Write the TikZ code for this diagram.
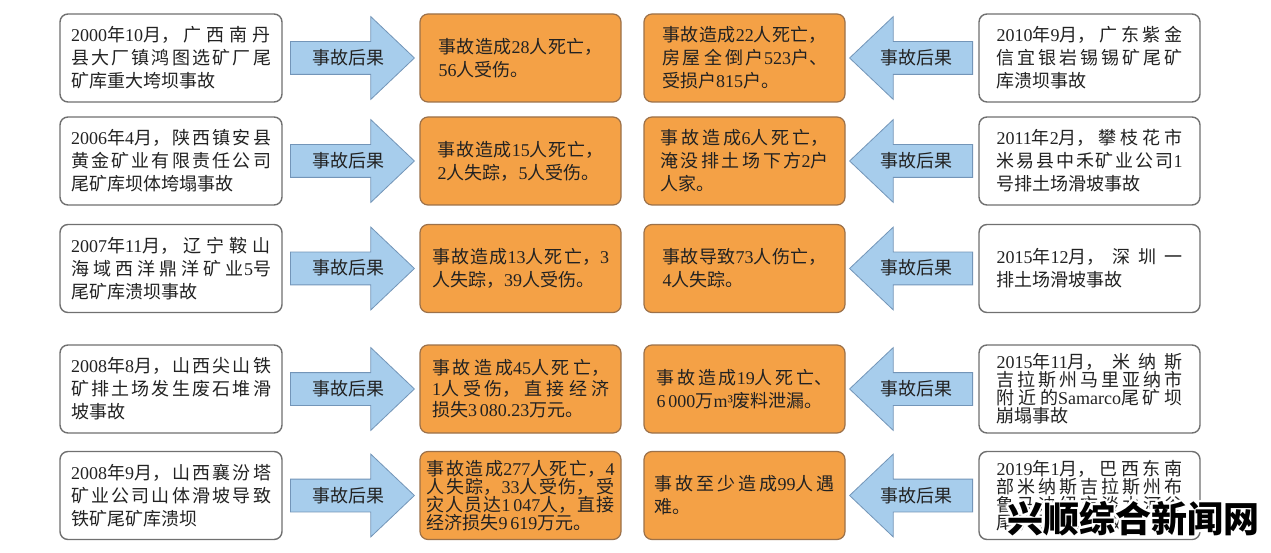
\documentclass[tikz,border=0pt]{standalone}
\usepackage{fontspec}
\setmainfont{Liberation Serif}
\newfontfamily\cjk{Noto Sans CJK SC}
\usepackage[copies]{contour}
\contourlength{2.5pt}
\contournumber{8}
\usetikzlibrary{shapes.arrows}
\XeTeXlinebreaklocale "zh"
\XeTeXlinebreakskip=0pt plus 4pt
\tolerance=9999 \hbadness=10000 \hfuzz=6pt
\XeTeXinterchartokenstate=1
\newXeTeXintercharclass\cjkcls
\count255="4E00
\loop\XeTeXcharclass\count255=\cjkcls\relax\advance\count255 by 1\relax\ifnum\count255<"A000\repeat
\XeTeXcharclass"3001=\cjkcls\relax
\XeTeXcharclass"3002=\cjkcls\relax
\XeTeXcharclass"FF0C=\cjkcls\relax
\XeTeXinterchartoks 0 \cjkcls = {\cjk}
\XeTeXinterchartoks 4095 \cjkcls = {\cjk}
\XeTeXinterchartoks \cjkcls 0 = {\rmfamily}
\XeTeXinterchartoks 4095 0 = {\rmfamily}
\definecolor{orangefill}{HTML}{F4A146}
\definecolor{orangeline}{HTML}{9C7149}
\definecolor{boxline}{HTML}{707070}
\definecolor{arrowfill}{HTML}{A7CDEC}
\definecolor{arrowline}{HTML}{7395B8}
\definecolor{ink}{HTML}{222222}
\newcommand{\rlabel}{事故后果\hspace*{-10pt}}
\newcommand{\llabel}{\hspace*{-7pt}事故后果}
\tikzset{
  basebox/.style={rounded corners=8pt, minimum height=88pt, inner sep=0pt,
    align=justify, text=ink, font=\fontsize{18pt}{23pt}\selectfont},
  whitebox/.style={basebox, draw=boxline, line width=1.4pt, fill=white},
  lbox/.style={whitebox, minimum width=222pt, text width=200pt},
  rbox/.style={whitebox, minimum width=221pt, text width=186pt},
  obox/.style={basebox, draw=orangeline, line width=1.2pt, fill=orangefill, minimum width=201pt},
  tight/.style={font=\fontsize{18pt}{18pt}\selectfont},
  rarrow/.style={single arrow, draw=arrowline, fill=arrowfill, line width=0.8pt,
    minimum height=124pt, single arrow head extend=25pt, single arrow tip angle=87,
    inner xsep=0pt, inner ysep=7pt, text height=15.5pt, text depth=2.5pt,
    font=\fontsize{18pt}{20pt}\selectfont, text=ink, anchor=tail},
  larrow/.style={rarrow, shape border rotate=180, minimum height=123pt}
}
\begin{document}
\begin{tikzpicture}[x=1pt,y=-1pt]
\useasboundingbox (0,0) rectangle (1271,553);
\fill[white] (0,0) rectangle (1271,553);
% row 1
\node[lbox] (l1) at (171,58) {2000年10月，广西南丹\linebreak 县大厂镇鸿图选矿厂尾\linebreak 矿库重大垮坝事故};
\node[rarrow] (ra1) at (290,58) {\rlabel};
\node[obox, text width=164pt] (o11) at (520.5,58) {事故造成28人死亡，\linebreak 56人受伤。};
\node[obox, text width=165pt] (o21) at (744.5,58) {事故造成22人死亡，\linebreak 房屋全倒户523户、\linebreak 受损户815户。};
\node[larrow] (la1) at (973,58) {\llabel};
\node[rbox] (r1) at (1089.5,58) {2010年9月，广东紫金\linebreak 信宜银岩锡锡矿尾矿\linebreak 库溃坝事故};
% row 2
\node[lbox] (l2) at (171,161) {2006年4月，陕西镇安县\linebreak 黄金矿业有限责任公司\linebreak 尾矿库坝体垮塌事故};
\node[rarrow] (ra2) at (290,161) {\rlabel};
\node[obox, text width=166pt] (o12) at (520.5,161) {事故造成15人死亡，\linebreak 2人失踪，5人受伤。};
\node[obox, text width=168pt] (o22) at (744.5,161) {事故造成6人死亡，\linebreak 淹没排土场下方2户\linebreak 人家。};
\node[larrow] (la2) at (973,161) {\llabel};
\node[rbox] (r2) at (1089.5,161) {2011年2月，攀枝花市\linebreak 米易县中禾矿业公司1\linebreak 号排土场滑坡事故};
% row 3
\node[lbox] (l3) at (171,268.5) {2007年11月，辽宁鞍山\linebreak 海域西洋鼎洋矿业5号\linebreak 尾矿库溃坝事故};
\node[rarrow] (ra3) at (290,268.5) {\rlabel};
\node[obox, text width=177pt] (o13) at (520.5,268.5) {事故造成13人死亡，3\linebreak 人失踪，39人受伤。};
\node[obox, text width=164pt] (o23) at (744.5,268.5) {事故导致73人伤亡，\linebreak 4人失踪。};
\node[larrow] (la3) at (973,268.5) {\llabel};
\node[rbox] (r3) at (1089.5,268.5) {2015年12月，深圳一\linebreak 排土场滑坡事故};
% row 4
\node[lbox] (l4) at (171,389) {2008年8月，山西尖山铁\linebreak 矿排土场发生废石堆滑\linebreak 坡事故};
\node[rarrow] (ra4) at (290,389) {\rlabel};
\node[obox, text width=177pt, font=\fontsize{18pt}{21pt}\selectfont] (o14) at (520.5,389) {事故造成45人死亡，\linebreak 1人受伤，直接经济\linebreak 损失3\,080.23万元。};
\node[obox, text width=176pt] (o24) at (744.5,389) {事故造成19人死亡、\linebreak 6\,000万m³废料泄漏。};
\node[larrow] (la4) at (973,389) {\llabel};
\node[rbox, tight] (r4) at (1089.5,389) {2015年11月，米纳斯\linebreak 吉拉斯州马里亚纳市\linebreak 附近的Samarco尾矿坝\linebreak 崩塌事故};
% row 5
\node[lbox] (l5) at (171,495.5) {2008年9月，山西襄汾塔\linebreak 矿业公司山体滑坡导致\linebreak 铁矿尾矿库溃坝};
\node[rarrow] (ra5) at (290,495.5) {\rlabel};
\node[obox, tight, text width=188pt] (o15) at (520.5,495.5) {事故造成277人死亡，4\linebreak 人失踪，33人受伤，受\linebreak 灾人员达1\,047人，直接\linebreak 经济损失9\,619万元。};
\node[obox, text width=180pt] (o25) at (744.5,495.5) {事故至少造成99人遇\linebreak 难。};
\node[larrow] (la5) at (973,495.5) {\llabel};
\node[rbox, tight] (r5) at (1089.5,495.5) {2019年1月，巴西东南\linebreak 部米纳斯吉拉斯州布\linebreak 鲁马迪纽市淡水河谷\linebreak 尾矿坝溃坝事故};
% watermark
\node[font=\cjk\bfseries\fontsize{36pt}{36pt}\selectfont, text=black, inner sep=0pt] (wm) at (1133,520) {\contour{white}{兴顺综合新闻网}};
\end{tikzpicture}
\end{document}
